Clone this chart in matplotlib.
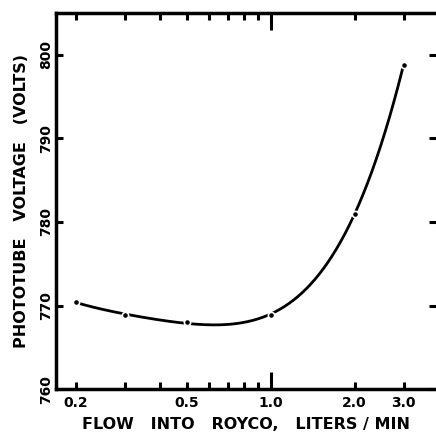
import numpy as np
from matplotlib import pyplot as plt
from matplotlib.ticker import FixedLocator, NullFormatter

# data
flow = [0.2, 0.3, 0.5, 1.0, 2.0, 3.0]
voltage = [770.4, 768.9, 768.0, 768.9, 781.0, 798.8]

xticks = [0.2, 0.5, 1.0, 2.0, 3.0]
xticklabels = ["0.2", "0.5", "1.0", "2.0", "3.0"]
xminor = [0.3, 0.4, 0.6, 0.7, 0.8, 0.9]
yticks = [760, 770, 780, 790, 800]

plt.rcParams["font.family"] = "DejaVu Sans"
plt.rcParams["font.weight"] = "bold"

fig = plt.figure(figsize=(4.36, 4.34), dpi=100)
ax = fig.add_axes([0.1284, 0.103, 0.8716, 0.8677])

# smooth curve through the points (fit in log x)
lx = np.log10(flow)
coef = np.polyfit(lx, voltage, 4)
xs = np.linspace(lx[0], lx[-1], 300)
ax.plot(10**xs, np.polyval(coef, xs), "-k", lw=2.0)
ax.plot(flow, voltage, "o", color="k", ms=4.5, mec="white", mew=1.2)

ax.set_xscale("log")
ax.set_xlim(0.1695, 3.92)
ax.set_ylim(760, 805)

ax.xaxis.set_major_locator(FixedLocator(xticks))
ax.set_xticklabels(xticklabels, fontsize=10, fontweight="bold")
ax.xaxis.set_minor_locator(FixedLocator(xminor))
ax.xaxis.set_minor_formatter(NullFormatter())
ax.set_yticks(yticks)
ax.set_yticklabels([str(v) for v in yticks], rotation=90, va="center",
                   fontsize=10, fontweight="bold")

ax.tick_params(which="both", direction="in", top=True, right=True,
               width=2.2, length=5)
ax.tick_params(axis="x", pad=5)
ax.tick_params(axis="y", pad=2)
# long tick at 1.0
t = ax.xaxis.get_major_ticks()[2]
t.tick1line.set_markersize(12)
t.tick2line.set_markersize(12)

for s in ["left", "top", "bottom"]:
    ax.spines[s].set_linewidth(2.5)
ax.spines["right"].set_visible(False)

ax.set_xlabel("FLOW   INTO   ROYCO,   LITERS / MIN", fontsize=11.5,
              fontweight="bold", labelpad=5)
ax.set_ylabel("PHOTOTUBE   VOLTAGE   (VOLTS)", fontsize=11.5,
              fontweight="bold", labelpad=7)

fig.savefig("out.png", dpi=100)
